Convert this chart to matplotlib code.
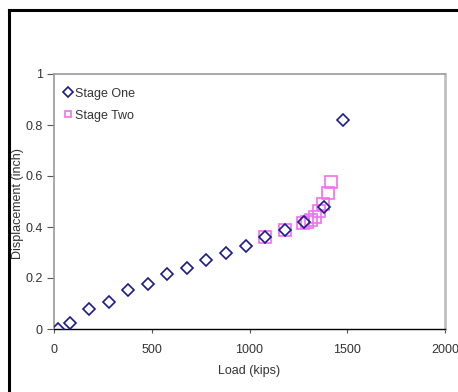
import matplotlib.pyplot as plt
from matplotlib.lines import Line2D

plt.rcParams["font.family"] = ["Liberation Sans", "DejaVu Sans"]

# Stage one load test
load_one = [20, 80, 180, 280, 380, 480, 580, 680, 780, 880, 980, 1080, 1180, 1280, 1380, 1480]
disp_one = [0.0, 0.022, 0.08, 0.105, 0.152, 0.177, 0.215, 0.24, 0.27, 0.297, 0.326,
            0.362, 0.39, 0.42, 0.48, 0.82]

# Stage two load test
load_two = [1080, 1180, 1275, 1295, 1315, 1335, 1355, 1375, 1400, 1415]
disp_two = [0.362, 0.39, 0.417, 0.421, 0.427, 0.438, 0.464, 0.491, 0.532, 0.578]

x_ticks = [0, 500, 1000, 1500, 2000]
y_ticks = [0, 0.2, 0.4, 0.6, 0.8, 1]
y_labels = ["0", "0.2", "0.4", "0.6", "0.8", "1"]

fig = plt.figure(figsize=(4.58, 3.92), dpi=100)
ax = fig.add_axes([54 / 458, 1 - 329 / 392, 391 / 458, 255 / 392])

ax.plot(load_one, disp_one, linestyle="none", marker="D", markersize=5.8,
        markerfacecolor="none", markeredgecolor="#1a1a8c", markeredgewidth=1.2,
        label="Stage One", zorder=3)
ax.plot(load_two, disp_two, linestyle="none", marker="s", markersize=8.5,
        markerfacecolor="none", markeredgecolor="#f070f0", markeredgewidth=1.2,
        label="Stage Two", zorder=2)

ax.set_xlim(0, 2000)
ax.set_ylim(0, 1)
ax.set_xticks(x_ticks)
ax.set_yticks(y_ticks)
ax.set_yticklabels(y_labels)
ax.tick_params(axis="both", labelsize=9, labelcolor="#333333", color="#555555")
ax.tick_params(axis="y", length=5, width=0.8, pad=3)
ax.tick_params(axis="x", length=3, width=0.8, pad=8)

for side in ["left", "top"]:
    ax.spines[side].set_color("#999999")
    ax.spines[side].set_linewidth(1.2)
ax.spines["right"].set_color("#c0c0c0")
ax.spines["right"].set_linewidth(2)
ax.spines["bottom"].set_color("black")
ax.spines["bottom"].set_linewidth(1)

ax.set_xlabel("Load (kips)", fontsize=9, color="#333333", labelpad=6)
ax.set_ylabel("Displacement (inch)", fontsize=9, color="#333333")
ax.yaxis.set_label_coords(-0.077, 0.49)

leg = ax.legend(loc="upper left", frameon=False, fontsize=9, handlelength=0.8,
                handletextpad=0.2, borderaxespad=0.3, labelspacing=0.8,
                bbox_to_anchor=(0.0, 0.98))
for h in leg.legend_handles:
    h.set_markersize(5)
for t in leg.get_texts():
    t.set_color("#333333")

# outer black frame (top and left edges visible)
fig.add_artist(Line2D([9 / 458, 1.0], [1 - 10 / 392, 1 - 10 / 392],
                      transform=fig.transFigure, color="black", linewidth=2.2))
fig.add_artist(Line2D([9 / 458, 9 / 458], [0.0, 1 - 10 / 392],
                      transform=fig.transFigure, color="black", linewidth=2.2))

fig.savefig("out.png", dpi=100)
